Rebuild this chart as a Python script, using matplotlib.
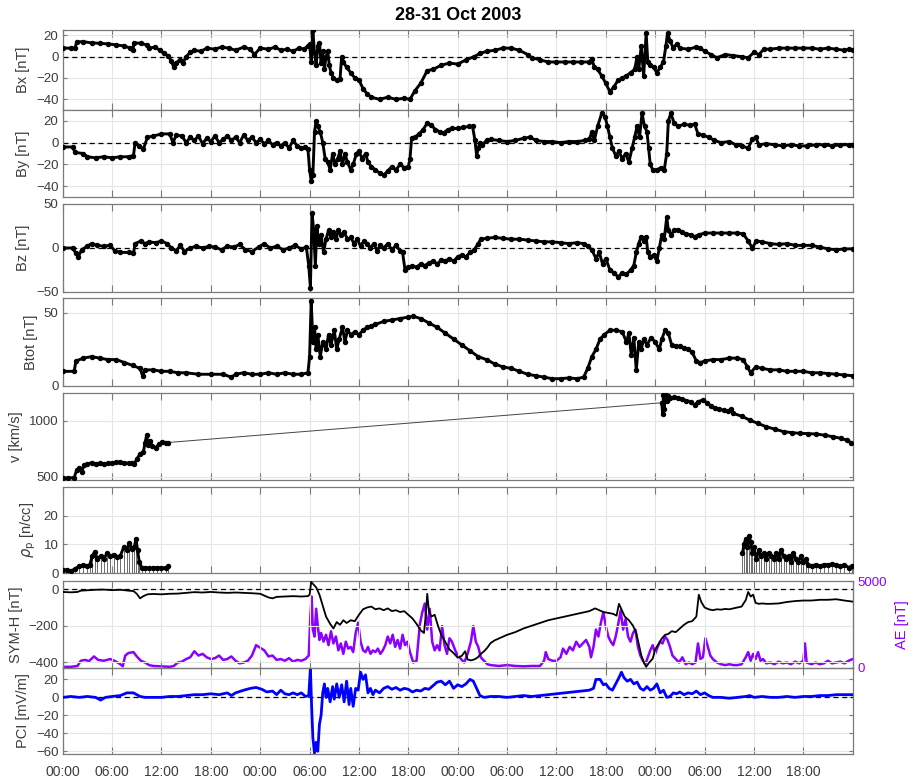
import numpy as np
import matplotlib
matplotlib.use("Agg")
import matplotlib.pyplot as plt

plt.rcParams['font.family'] = ['Liberation Sans', 'DejaVu Sans']

# ---------------- data (hours since 28 Oct 2003 00:00 UT) ----------------
t_bx = [0, 1.0, 1.5, 1.7, 2.5, 3.5, 4.5, 5.5, 6.5, 7.5, 8.2, 8.5, 8.7, 9.5, 10.2, 10.5, 11.2, 11.8, 12.3, 12.8,
        13.2, 13.5, 13.8, 14.2, 14.6, 15.0, 15.5, 16.0, 16.8, 17.5, 18.5, 19.3, 20.2, 21.0, 22.0, 22.8, 23.3,
        24.0, 25.0, 25.8, 26.5, 27.3, 28.0, 28.7, 29.3, 29.8, 30.0, 30.2, 30.4, 30.6, 30.8, 31.0, 31.2, 31.4,
        31.6, 31.8, 32.0, 32.2, 32.4, 32.6, 32.9, 33.3, 33.7, 33.9, 34.1, 34.5, 35.0, 35.5, 36.0, 36.5, 37.0,
        37.5, 38.5, 39.5, 40.5, 41.5, 42.2, 42.8, 43.5, 44.3, 45.0, 46.0, 47.0, 48.0, 49.0, 50.0, 50.7, 51.5,
        52.5, 53.5, 54.5, 55.5, 56.5, 57.0, 58.0, 59.0, 60.0, 61.0, 62.0, 63.0, 64.0, 64.3, 64.6, 65.0, 65.5,
        66.0, 66.5, 67.0, 67.5, 68.0, 68.5, 69.0, 69.5, 69.8, 70.0, 70.3, 70.6, 70.9, 71.1, 71.4, 71.8, 72.2,
        72.6, 73.0, 73.3, 73.5, 73.8, 74.2, 74.6, 75.0, 76.0, 77.0, 77.5, 78.0, 78.8, 79.5, 80.5, 81.5, 82.5,
        83.3, 84.0, 84.6, 85.2, 86.0, 87.0, 88.0, 89.0, 90.0, 91.0, 92.0, 93.0, 94.0, 95.0, 95.5, 96.0]
bx = [8, 8, 8, 14, 14, 13, 12.5, 12, 11, 10, 8, 6, 13, 12.5, 11, 8, 9, 6, 3, 1,
      -4, -10, -6, -3, -6, 0, 4, 6, 5, 8, 7, 9, 8, 6, 9, 7, 2,
      8, 7, 9, 6, 7, 5, 8, 7, 10, 12, -5, 25, 3, -8, 10, 13, -6,
      5, -12, 0, 5, -8, -15, -20, -22, -21, 0, -5, -10, -15, -20, -22, -30, -35,
      -38, -40, -38, -40, -39, -40, -32, -25, -13, -12, -8, -6, -7, -3, 0, 3, 5,
      6, 8, 8, 6, 2, -1, -3, -5, -5, -5, -5, -5, -5, -2, -10, -12, -18,
      -25, -33, -28, -22, -20, -18, -15, -12, 0, -12, 10, -18, 22, -5, -8, -10, -15,
      -10, -5, 10, 22, 15, 8, 12, 8, 7, 9, 8, 5, 2, -1, 2, 1, 0,
      -1, 4, 2, 7, 7, 8, 8, 8, 8, 8, 7, 8, 7, 6, 7, 6]

t_by = [0, 1.2, 1.5, 2.5, 3.0, 4.0, 5.0, 6.0, 7.0, 8.0, 8.6, 8.8, 9.3, 9.8, 10.3, 11.0, 12.0, 13.0, 13.4, 13.8,
        14.5, 15.0, 15.5, 16.0, 16.5, 17.0, 17.5, 18.0, 18.5, 19.0, 19.5, 20.0, 20.5, 21.0, 21.5, 22.0, 22.5,
        23.0, 23.5, 24.0, 24.5, 25.0, 25.5, 26.0, 26.5, 27.0, 27.5, 28.0, 28.5, 29.0, 29.5, 29.8, 30.0, 30.2,
        30.4, 30.6, 30.8, 31.0, 31.3, 31.6, 31.9, 32.2, 32.5, 32.8, 33.1, 33.4, 33.7, 34.0, 34.3, 34.6, 35.0,
        35.3, 35.7, 36.0, 36.4, 36.8, 37.1, 37.5, 38.0, 38.5, 39.0, 39.5, 40.0, 40.5, 41.0, 41.5, 42.0, 42.2,
        42.4, 42.8, 43.3, 43.8, 44.3, 44.8, 45.3, 45.8, 46.3, 46.8, 47.3, 48.0, 48.7, 49.4, 49.8, 50.1, 50.3,
        50.5, 50.7, 51.0, 51.5, 52.0, 53.0, 54.0, 55.0, 56.0, 56.8, 57.5, 58.5, 59.5, 60.5, 61.5, 62.5, 63.5,
        64.0, 64.3, 64.6, 65.0, 65.5, 65.9, 66.2, 66.5, 66.8, 67.2, 67.6, 68.0, 68.4, 68.8, 69.2, 69.5, 69.8,
        70.1, 70.4, 70.7, 71.0, 71.2, 71.4, 71.7, 72.2, 72.7, 73.1, 73.4, 73.6, 73.9, 74.3, 74.8, 75.5, 76.2,
        76.8, 77.2, 77.8, 78.5, 79.2, 80.0, 81.0, 81.8, 82.5, 83.3, 83.8, 84.2, 84.6, 85.5, 86.5, 87.5, 88.5,
        89.5, 90.5, 91.5, 92.5, 93.5, 94.5, 95.5, 96.0]
by = [-4, -4, -9, -10, -13, -14, -13, -14, -13, -13, -12, 0, -3, -6, 5, 6, 8, 8, 0, 7,
      6, 0, 5, 2, 6, -1, 4, 1, 6, 0, 3, 6, 2, 5, 0, 7, 2,
      5, 0, 3, -1, 2, -2, 0, -3, 0, -5, 2, -3, -5, -4, -6, -25, -35,
      -30, 10, 20, 15, 10, 0, -15, -18, -25, -10, -20, -15, -8, -20, -10, -18, -25,
      -20, -10, -8, -15, -10, -18, -22, -25, -28, -30, -26, -22, -25, -20, -23, -22, -15,
      4, 5, 8, 12, 18, 16, 12, 10, 9, 12, 13, 13, 14, 15, 15, 2, -12,
      -5, 0, -2, 2, 3, 2, 1, 2, 4, 5, 2, 1, 1, 0, 1, 1, 2,
      3, 10, 2, 15, 27, 24, 15, 5, -5, -12, -8, -15, -10, -18, -5, 5, 15,
      5, 27, 15, 10, -5, -20, -25, -25, -23, -25, -10, 20, 27, 18, 15, 17, 16,
      17, 8, 7, 5, 2, 0, 1, -2, -3, -5, 3, 5, -2, -1, -2, -3, -2,
      -3, -3, -2, -2, -3, -2, -2, -2]

t_bz = [0, 1.2, 1.6, 1.9, 2.3, 3.0, 3.5, 4.2, 5.0, 5.8, 6.3, 7.0, 8.0, 8.6, 8.8, 9.5, 10.0, 10.5, 11.3, 12.0,
        12.7, 13.2, 13.8, 14.3, 14.8, 15.5, 16.2, 17.0, 17.8, 18.5, 19.3, 20.0, 20.8, 21.5, 22.2, 23.0, 23.8,
        24.5, 25.2, 26.0, 26.8, 27.5, 28.2, 29.0, 29.6, 29.9, 30.1, 30.3, 30.5, 30.7, 30.9, 31.1, 31.4, 31.7,
        32.0, 32.3, 32.6, 32.9, 33.2, 33.5, 33.8, 34.2, 34.6, 35.0, 35.4, 35.8, 36.2, 36.6, 37.0, 37.4, 37.8,
        38.2, 38.6, 39.0, 39.5, 40.0, 40.5, 41.0, 41.3, 41.6, 42.0, 42.5, 43.0, 43.5, 44.0, 44.5, 45.0, 45.5,
        46.0, 46.5, 47.0, 47.5, 48.0, 48.5, 49.0, 49.5, 50.0, 50.5, 50.8, 51.5, 52.5, 53.5, 54.5, 55.5, 56.5,
        57.5, 58.5, 59.5, 60.5, 61.5, 62.5, 63.3, 63.8, 64.3, 64.8, 65.2, 65.6, 66.0, 66.5, 67.0, 67.5, 68.0,
        68.5, 69.0, 69.4, 69.7, 70.0, 70.3, 70.6, 70.9, 71.1, 71.4, 71.8, 72.2, 72.5, 72.8, 73.1, 73.4, 73.6,
        73.9, 74.3, 74.8, 75.3, 75.8, 76.3, 76.8, 77.3, 78.0, 79.0, 80.0, 81.0, 82.0, 82.7, 83.3, 83.8, 84.3,
        85.0, 86.0, 87.0, 88.0, 89.0, 90.0, 91.0, 92.0, 93.0, 94.0, 95.0, 96.0]
bz = [0, 0, -6, -10, -2, 2, 5, 3, 2, 3, -3, -5, -5, -6, 5, 8, 5, 7, 6, 8,
      5, 0, -3, 3, -4, 0, 2, 0, 2, 1, -2, 2, 1, 4, -2, -4, 1,
      5, 0, 2, -2, 0, 3, -1, 1, -20, -45, 40, 20, -20, 25, 5, 15, -5,
      10, 20, 12, 18, 10, 20, 15, 18, 10, 12, 5, 10, 2, 8, 5, 0, 5,
      -3, 3, 0, 5, -2, 3, -3, -5, -25, -22, -20, -22, -18, -20, -17, -15, -18,
      -14, -15, -12, -15, -10, -8, -10, -5, -2, 5, 10, 11, 12, 11, 10, 10, 9,
      8, 7, 7, 6, 5, 6, 5, 2, -2, -12, -5, -18, -12, -25, -28, -33, -28,
      -30, -25, -20, -5, 5, 13, 8, 13, -5, -10, -8, -15, 0, 15, 10, 35, 20,
      15, 20, 21, 18, 16, 15, 13, 15, 17, 17, 17, 17, 17, 16, 8, 0, 8,
      7, 5, 4, 5, 3, 3, 3, 1, -1, -2, -1, -1]

t_bt = [0, 1.4, 1.6, 2.5, 3.5, 4.5, 5.5, 6.5, 7.5, 8.5, 9.4, 9.7, 10.0, 11.0, 12.0, 13.0, 14.0, 15.0, 16.5, 18.0,
        19.5, 20.5, 21.0, 22.0, 23.0, 24.0, 25.0, 26.0, 27.0, 28.0, 29.0, 29.8, 30.0, 30.2, 30.4, 30.6, 30.8,
        31.0, 31.3, 31.6, 32.0, 32.3, 32.6, 33.0, 33.3, 33.6, 34.0, 34.3, 34.6, 35.0, 35.5, 36.0, 36.5, 37.0,
        37.5, 38.0, 39.0, 40.0, 41.0, 42.0, 42.6, 43.5, 44.5, 45.5, 46.5, 47.5, 48.5, 49.5, 50.5, 51.5, 52.5,
        53.5, 54.5, 55.5, 56.5, 57.5, 58.5, 59.5, 60.5, 61.5, 62.5, 63.3, 63.8, 64.3, 64.8, 65.3, 65.8, 66.5,
        67.2, 68.0, 68.5, 68.8, 69.1, 69.4, 69.7, 70.0, 70.3, 70.6, 71.0, 71.5, 72.0, 72.5, 72.8, 73.2, 73.6,
        74.0, 74.5, 75.0, 75.5, 76.0, 76.5, 77.0, 77.5, 78.0, 79.0, 80.0, 81.0, 82.0, 82.7, 83.2, 83.6, 84.2,
        85.0, 86.0, 87.0, 88.0, 89.0, 90.0, 91.0, 92.0, 93.0, 94.0, 95.0, 96.0]
btot = [10, 10, 17, 19, 20, 19, 18, 18, 16, 14, 12, 7, 11, 11, 10, 10, 9, 9, 8, 8,
        8, 6, 8, 9, 8, 8, 9, 8, 9, 8, 8, 9, 20, 58, 30, 40, 25,
        35, 20, 30, 25, 35, 28, 38, 25, 32, 40, 30, 38, 35, 37, 35, 38, 40,
        41, 42, 44, 45, 46, 47, 47.5, 46, 43, 40, 36, 32, 28, 24, 20, 18, 15,
        13, 12, 10, 8, 7, 6, 5, 5, 5.5, 5, 6, 12, 20, 25, 32, 35, 38,
        38, 37, 30, 36, 21, 33, 11, 30, 25, 32, 28, 33, 30, 25, 32, 38, 36,
        28, 27, 27, 26, 25, 23, 17, 16, 17, 18, 18, 19, 19, 18, 13, 9, 13,
        12, 11, 11, 10, 10, 10, 9, 9, 8.5, 8, 7.5, 7]

t_v = [0, 0.7, 1.4, 1.7, 2.0, 2.3, 2.6, 3.0, 3.5, 4.0, 4.5, 5.0, 5.5, 6.0, 6.5, 7.0, 7.5, 8.0, 8.4, 8.7,
       9.0, 9.4, 9.8, 10.0, 10.2, 10.4, 10.6, 10.9, 11.3, 11.7, 12.1, 12.5, 12.8,
       72.8, 72.9, 73.0, 73.1, 73.2, 73.4, 73.6, 73.8, 74.3, 74.8, 75.3, 75.8, 76.3, 76.8, 77.2, 77.8, 78.3,
       78.8, 79.3, 79.8, 80.3, 80.8, 81.2, 81.5, 82.5, 83.5, 84.5, 85.5, 86.5, 87.6, 88.6, 89.6, 90.6, 91.6,
       92.6, 93.6, 94.6, 95.3, 95.8]
v = [490, 488, 492, 560, 575, 545, 600, 610, 625, 615, 618, 612, 620, 622, 630, 628, 625, 620, 618, 610,
     660, 700, 720, 800, 870, 780, 820, 770, 760, 790, 810, 805, 805,
     1160, 1060, 1230, 1100, 1250, 1180, 1220, 1200, 1210, 1205, 1190, 1180, 1170, 1140, 1170, 1185, 1160,
     1130, 1110, 1100, 1095, 1085, 1100, 1065, 1040, 1005, 975, 946, 925, 902, 893, 887, 884, 881,
     870, 857, 842, 825, 804]

t_rho = [0, 0.5, 1.0, 1.5, 2.0, 2.5, 3.0, 3.3, 3.6, 3.9, 4.2, 4.6, 5.0, 5.4, 5.8, 6.2, 6.6, 7.0, 7.4, 7.8,
         8.1, 8.4, 8.7, 8.9, 9.1, 9.3, 9.6, 10.0, 10.5, 11.0, 11.5, 12.0, 12.5, 12.8,
         82.6, 82.8, 83.0, 83.2, 83.4, 83.6, 83.8, 84.0, 84.3, 84.6, 84.9, 85.2, 85.5, 85.8, 86.1, 86.4, 86.7,
         87.0, 87.3, 87.6, 87.9, 88.2, 88.5, 88.8, 89.1, 89.4, 89.7, 90.0, 90.3, 90.6, 91.0, 91.5, 92.0, 92.5,
         93.0, 93.5, 94.0, 94.5, 95.0, 95.5, 95.9]
rho = [1, 1.2, 0.8, 1.5, 2.5, 2.8, 2.5, 3, 6, 7.5, 5, 6, 5, 7, 6, 6.5, 5.5, 6, 9, 8,
       10.5, 8.5, 9, 12, 8, 4, 2, 2, 1.8, 1.8, 2, 1.8, 2, 2.5,
       7, 10, 12, 9, 13, 11, 7, 9, 5, 8, 6, 7, 5, 7, 6, 5, 7,
       5, 8, 6, 5, 6, 4, 7, 5, 4, 6, 4, 5, 3, 2.5, 3, 2.5, 3,
       3, 3.2, 3, 2.5, 3, 2, 2.5]

t_sym = [0, 1.0, 1.8, 2.2, 3.0, 4.0, 5.0, 6.0, 7.0, 8.0, 8.6, 9.0, 9.4, 9.8, 10.3, 11.0, 12.0, 13.0, 14.0, 15.0,
         16.0, 17.0, 18.0, 19.0, 20.0, 21.0, 22.0, 23.0, 24.0, 24.5, 25.0, 25.5, 26.0, 27.0, 28.0, 29.0, 29.8,
         30.0, 30.2, 30.5, 30.8, 31.2, 31.6, 32.0, 32.5, 32.9, 33.3, 33.7, 34.1, 34.5, 35.0, 35.5, 36.0, 36.5,
         37.0, 37.5, 38.0, 38.5, 39.0, 39.5, 40.0, 40.5, 41.0, 41.5, 42.0, 42.5, 43.0, 43.5, 43.9, 44.1, 44.3,
         44.5, 44.8, 45.2, 45.6, 46.0, 46.5, 47.0, 47.5, 48.0, 48.5, 48.9, 49.2, 49.6, 50.0, 50.4, 50.8, 51.2,
         51.6, 52.0, 52.5, 53.0, 54.0, 55.0, 56.0, 57.0, 58.0, 59.0, 60.0, 61.0, 62.0, 63.0, 64.0, 64.7, 65.2,
         65.7, 66.3, 66.9, 67.3, 67.6, 67.9, 68.3, 68.8, 69.3, 69.7, 70.0, 70.3, 70.6, 70.9, 71.3, 71.7, 72.0,
         72.4, 72.8, 73.2, 73.6, 74.0, 74.5, 75.0, 75.5, 76.0, 76.5, 77.0, 77.3, 77.6, 78.0, 78.5, 79.0, 79.5,
         80.0, 80.5, 81.0, 81.5, 82.0, 82.5, 83.0, 83.3, 83.6, 83.9, 84.2, 84.6, 85.0, 85.5, 86.0, 87.0, 88.0,
         89.0, 90.0, 91.0, 92.0, 93.0, 94.0, 95.0, 96.0]
symh = [-15, -17, -15, -8, -6, -3, -2, -5, -3, -8, -10, -25, -50, -38, -28, -26, -28, -25, -24, -20,
        -16, -18, -15, -18, -20, -18, -20, -22, -25, -35, -45, -50, -42, -40, -38, -40, -38,
        -30, 40, 25, 10, -30, -90, -150, -190, -215, -180, -195, -170, -185, -170, -175, -140, -110,
        -100, -95, -110, -105, -115, -105, -120, -115, -125, -120, -140, -160, -190, -225, -240, -150, -25,
        -120, -150, -140, -200, -250, -290, -330, -350, -375, -365, -340, -385, -390, -385, -375, -355, -340,
        -320, -295, -280, -270, -250, -235, -215, -200, -185, -170, -160, -150, -140, -130, -120, -105, -115,
        -125, -130, -135, -145, -80, -110, -150, -170, -200, -240, -300, -360, -400, -425, -400, -380, -330,
        -300, -270, -250, -245, -230, -235, -215, -195, -180, -175, -150, -30, -70, -100, -110, -115, -110,
        -112, -108, -110, -105, -100, -95, -60, -15, -40, -30, -75, -80, -78, -80, -80, -78, -70,
        -65, -62, -62, -58, -58, -55, -62, -68]

t_ae = [0, 1.0, 1.8, 2.2, 2.7, 3.2, 3.8, 4.3, 5.0, 5.8, 6.5, 7.0, 7.3, 7.6, 8.0, 8.6, 9.0, 9.5, 10.0, 10.5,
        11.0, 12.0, 13.0, 13.5, 14.0, 14.5, 15.0, 15.5, 16.0, 16.5, 17.0, 17.5, 18.0, 18.5, 19.0, 19.5, 20.0,
        20.5, 21.0, 21.5, 22.0, 22.5, 23.0, 23.5, 24.0, 24.5, 25.0, 25.5, 26.0, 26.5, 27.0, 27.5, 28.0, 28.5,
        29.0, 29.5, 29.9, 30.1, 30.25, 30.4, 30.6, 30.8, 31.0, 31.2, 31.4, 31.7, 32.0, 32.3, 32.6, 32.9, 33.2,
        33.5, 33.8, 34.1, 34.4, 34.7, 35.0, 35.3, 35.6, 35.9, 36.2, 36.5, 36.8, 37.1, 37.4, 37.7, 38.0, 38.3,
        38.6, 38.9, 39.2, 39.5, 39.8, 40.1, 40.4, 40.7, 41.0, 41.3, 41.6, 41.9, 42.2, 42.6, 43.0, 43.4, 43.7,
        44.0, 44.3, 44.6, 44.9, 45.2, 45.5, 45.8, 46.1, 46.4, 46.7, 47.0, 47.3, 47.7, 48.0, 48.4, 48.8, 49.2,
        49.6, 49.9, 50.2, 50.5, 50.8, 51.2, 51.6, 52.0, 53.0, 54.0, 55.0, 56.0, 57.0, 58.0, 58.5, 58.7, 59.0,
        59.5, 60.0, 60.5, 60.8, 61.2, 61.6, 62.0, 62.4, 62.8, 63.2, 63.6, 64.0, 64.2, 64.5, 64.8, 65.1, 65.4,
        65.7, 66.0, 66.3, 66.6, 66.9, 67.2, 67.5, 67.8, 68.1, 68.4, 68.7, 69.0, 69.3, 69.6, 69.9, 70.2, 70.5,
        70.8, 71.1, 71.4, 71.7, 72.0, 72.3, 72.6, 72.9, 73.2, 73.5, 73.8, 74.1, 74.5, 74.9, 75.3, 75.7, 76.1,
        76.5, 76.9, 77.2, 77.5, 77.8, 78.1, 78.4, 78.7, 79.0, 79.5, 80.0, 80.5, 81.0, 81.5, 82.0, 82.5, 83.0,
        83.3, 83.6, 83.9, 84.2, 84.5, 84.8, 85.1, 85.5, 86.0, 86.5, 87.0, 87.5, 88.0, 88.5, 89.0, 89.5, 90.0,
        90.2, 90.4, 91.0, 91.5, 92.0, 92.5, 93.0, 93.5, 94.0, 94.5, 95.0, 95.5, 96.0]
ae = [50, 50, 100, 400, 450, 380, 650, 450, 400, 500, 350, 200, 80, 700, 850, 900, 650, 400, 300, 150,
      100, 80, 50, 100, 300, 350, 500, 600, 950, 700, 800, 600, 500, 550, 700, 450, 500,
      650, 400, 250, 300, 400, 700, 1300, 1150, 1000, 650, 700, 450, 500, 400, 550, 350, 450,
      400, 500, 700, 3000, 4100, 2200, 1800, 3400, 2400, 1600, 2000, 1500, 1900, 1300, 2100, 1400, 1800,
      1000, 1400, 800, 1500, 1100, 1200, 900, 2000, 2600, 1500, 1000, 900, 1200, 800, 1000, 900, 1100,
      800, 1000, 1300, 1800, 1400, 1900, 1200, 1600, 1100, 1900, 1300, 1500, 900, 300, 400, 2500, 3200,
      3700, 2200, 3400, 1500, 1000, 1300, 1000, 2400, 1300, 800, 1700, 1500, 1000, 700, 500, 300, 800,
      1500, 2400, 1500, 1200, 600, 400, 200, 150, 100, 150, 100, 80, 100, 100, 400, 900, 500,
      400, 400, 600, 1100, 800, 1200, 1000, 1500, 1200, 1400, 1600, 1200, 600, 1200, 2200, 1800, 2600,
      3200, 2400, 1800, 1500, 1300, 1800, 2500, 3300, 2200, 2800, 1800, 1500, 2000, 2200, 1200, 700, 400,
      200, 600, 1000, 1300, 800, 1200, 1500, 1400, 1800, 1600, 1200, 700, 500, 300, 600, 200, 300,
      200, 300, 1400, 500, 600, 1700, 1200, 700, 500, 300, 200, 150, 200, 150, 150, 200, 600,
      900, 400, 800, 500, 900, 400, 500, 250, 300, 200, 350, 250, 300, 200, 350, 250, 400,
      1400, 300, 200, 300, 200, 250, 400, 250, 300, 350, 250, 400, 500]

t_pci = [0, 1.0, 2.0, 3.0, 4.0, 4.6, 5.2, 6.0, 7.0, 7.8, 8.6, 9.4, 10.0, 11.0, 12.0, 13.0, 14.0, 15.0, 16.0, 17.0,
         18.0, 19.0, 20.0, 20.5, 21.0, 22.0, 22.8, 23.5, 24.2, 24.8, 25.5, 26.0, 26.5, 27.0, 27.5, 28.0, 28.5,
         29.0, 29.5, 29.9, 30.1, 30.25, 30.4, 30.6, 30.8, 31.0, 31.2, 31.4, 31.6, 31.8, 32.0, 32.2, 32.5, 32.8,
         33.0, 33.3, 33.6, 33.9, 34.2, 34.5, 34.8, 35.0, 35.3, 35.6, 35.9, 36.2, 36.5, 36.8, 37.1, 37.4, 37.7,
         38.0, 38.5, 39.0, 39.5, 40.0, 40.5, 41.0, 41.5, 42.0, 42.5, 43.0, 43.5, 44.0, 44.5, 45.0, 45.5, 46.0,
         46.5, 47.0, 47.5, 48.0, 48.5, 49.0, 49.5, 49.9, 50.3, 50.7, 51.2, 52.0, 53.0, 54.0, 55.0, 56.0, 57.0,
         58.0, 59.0, 60.0, 61.0, 62.0, 63.0, 64.0, 64.5, 64.8, 65.3, 65.7, 66.0, 66.4, 66.8, 67.2, 67.6, 67.9,
         68.2, 68.6, 69.0, 69.4, 69.8, 70.2, 70.6, 71.0, 71.4, 71.8, 72.2, 72.6, 73.0, 73.4, 73.8, 74.2, 74.6,
         75.0, 75.5, 76.0, 76.5, 77.0, 77.5, 78.0, 78.5, 79.0, 80.0, 81.0, 82.0, 83.0, 83.5, 84.0, 85.0, 86.0,
         87.0, 88.0, 89.0, 90.0, 91.0, 92.0, 93.0, 94.0, 95.0, 96.0]
pci = [0, 1, 0, 1, 0, -3, 0, 1, 2, 5, 5, 1, 0, 0, 0, 1, 1, 2, 3, 3,
       4, 3, 5, 2, 5, 8, 10, 11, 9, 6, 7, 3, 8, 4, 3, 5, 3,
       5, 1, 2, 32, -10, -45, -62, -50, -60, -30, -20, 5, 15, 0, 10, -5, 12,
       -2, 15, 0, 14, -5, 18, -8, 10, -10, 10, 8, 28, 20, 25, 5, 10, 3,
       8, 5, 10, 12, 9, 11, 8, 10, 9, 6, 8, 7, 10, 9, 13, 17, 18,
       14, 18, 10, 14, 12, 15, 20, 18, 10, 2, 0, 1, 1, 0, 1, 2, 1,
       2, 3, 4, 5, 6, 7, 8, 10, 20, 20, 14, 15, 10, 8, 15, 22, 28,
       22, 18, 20, 15, 17, 10, 8, 12, 8, 10, 15, 5, 8, 0, 1, 5, 4,
       6, 3, 5, 4, 7, 3, 5, 2, 0, 0, -1, 0, 1, 2, 0, 1, 0,
       0, 1, 0, 1, 1, 2, 2, 3, 3, 3]

xtick_hours = list(range(0, 91, 6))
xtick_labels = ['00:00', '06:00', '12:00', '18:00'] * 4
title = '28-31 Oct 2003'

# ---------------- style ----------------
TXT = '#3c3c3c'
SPINE = '#7a7a7a'
GRID = '#e6e6e6'
PURPLE = '#8c00ff'
LW = 2.1
MS = 2.9

W, H = 916, 779
fig = plt.figure(figsize=(W / 100, H / 100), dpi=100)

left_px, right_px = 62.7, 852.7
panels_px = [(30, 110), (110, 197), (204, 292), (298, 386), (392.7, 480), (486.7, 573.3), (581, 667.7), (667.7, 754)]


def make_ax(top, bot):
    ax = fig.add_axes([left_px / W, 1 - bot / H, (right_px - left_px) / W, (bot - top) / H])
    ax.set_xlim(0, 96)
    ax.set_xticks(xtick_hours)
    ax.grid(True, color=GRID, lw=0.8)
    ax.set_axisbelow(True)
    for s in ax.spines.values():
        s.set_color(SPINE)
        s.set_linewidth(0.9)
    ax.tick_params(axis='x', direction='in', length=5, width=0.8, color=SPINE, top=True,
                   labelbottom=False, labelsize=10, labelcolor=TXT, pad=8)
    ax.tick_params(axis='y', direction='in', length=3, width=0.8, color=SPINE, right=True,
                   labelsize=9.5, labelcolor=TXT, pad=3)
    return ax


def segments(t, y, gap=3.0):
    t = np.asarray(t, float)
    y = np.asarray(y, float)
    idx = np.where(np.diff(t) > gap)[0] + 1
    return list(zip(np.split(t, idx), np.split(y, idx)))


axes = [make_ax(a, b) for a, b in panels_px]


def dots(ax, t, y):
    ax.plot(t, y, '-', color='k', lw=LW, zorder=3)
    ax.plot(t, y, 'o', color='k', ms=MS, zorder=3)


def mag_plot(ax, t, y):
    dots(ax, t, y)
    ax.axhline(0, color='k', ls=(0, (4, 3)), lw=0.9, zorder=2)


# Bx
ax = axes[0]
mag_plot(ax, t_bx, bx)
ax.set_ylim(-50, 25)
ax.set_yticks([-40, -20, 0, 20])
ax.set_ylabel('Bx [nT]', color=TXT, fontsize=10.5)
ax.set_title(title, fontsize=13, fontweight='bold', color='k', pad=7)

# By
ax = axes[1]
mag_plot(ax, t_by, by)
ax.set_ylim(-50, 30)
ax.set_yticks([-40, -20, 0, 20])
ax.set_ylabel('By [nT]', color=TXT, fontsize=10.5)

# Bz
ax = axes[2]
mag_plot(ax, t_bz, bz)
ax.set_ylim(-50, 50)
ax.set_yticks([-50, 0, 50])
ax.set_ylabel('Bz [nT]', color=TXT, fontsize=10.5)

# Btot
ax = axes[3]
dots(ax, t_bt, btot)
ax.set_ylim(0, 60)
ax.set_yticks([0, 50])
ax.set_ylabel('Btot [nT]', color=TXT, fontsize=10.5)

# v
ax = axes[4]
ax.plot(t_v, v, '-', color='#444444', lw=0.7)
for ts, ys in segments(t_v, v):
    dots(ax, ts, ys)
ax.set_ylim(470, 1250)
ax.set_yticks([500, 1000])
ax.set_ylabel('v [km/s]', color=TXT, fontsize=10.5)

# rho
ax = axes[5]
ax.vlines(t_rho, 0, rho, color='#555555', lw=0.6)
for ts, ys in segments(t_rho, rho):
    dots(ax, ts, ys)
ax.set_ylim(0, 30)
ax.set_yticks([0, 10, 20])
ax.set_ylabel(r'$\rho_{\mathrm{p}}$ [n/cc]', color=TXT, fontsize=10.5)

# SYM-H + AE
ax = axes[6]
ax.axhline(0, color='k', ls=(0, (4, 3)), lw=0.9, zorder=2)
ax.plot(t_sym, symh, '-', color='k', lw=1.3, zorder=4)
ax.set_ylim(-430, 45)
ax.set_yticks([-400, -200, 0])
ax.set_ylabel('SYM-H [nT]', color=TXT, fontsize=10.5)
ax.tick_params(axis='y', right=False)
ax2 = ax.twinx()
ax2.plot(t_ae, ae, '-', color=PURPLE, lw=1.8, zorder=3)
ax2.set_ylim(0, 5000)
ax2.set_yticks([0, 5000])
ax2.tick_params(axis='y', direction='in', length=3, color=PURPLE, labelcolor=PURPLE, labelsize=9.5)
for s in ['left', 'top', 'bottom']:
    ax2.spines[s].set_visible(False)
ax2.spines['right'].set_color(PURPLE)
ax2.set_ylabel('AE [nT]', color=PURPLE, fontsize=10.5, labelpad=6)
ax.set_zorder(ax2.get_zorder() + 1)
ax.patch.set_visible(False)

# PCI
ax = axes[7]
ax.axhline(0, color='k', ls=(0, (4, 3)), lw=0.9, zorder=2)
ax.plot(t_pci, pci, '-', color='#0000ff', lw=2.0, zorder=3)
ax.set_ylim(-63, 33)
ax.set_yticks([-60, -40, -20, 0, 20])
ax.set_ylabel('PCI [mV/m]', color=TXT, fontsize=10.5)
ax.tick_params(axis='x', labelbottom=True)
ax.set_xticklabels(xtick_labels)

fig.align_ylabels(axes)
fig.savefig('out.png', dpi=100)
